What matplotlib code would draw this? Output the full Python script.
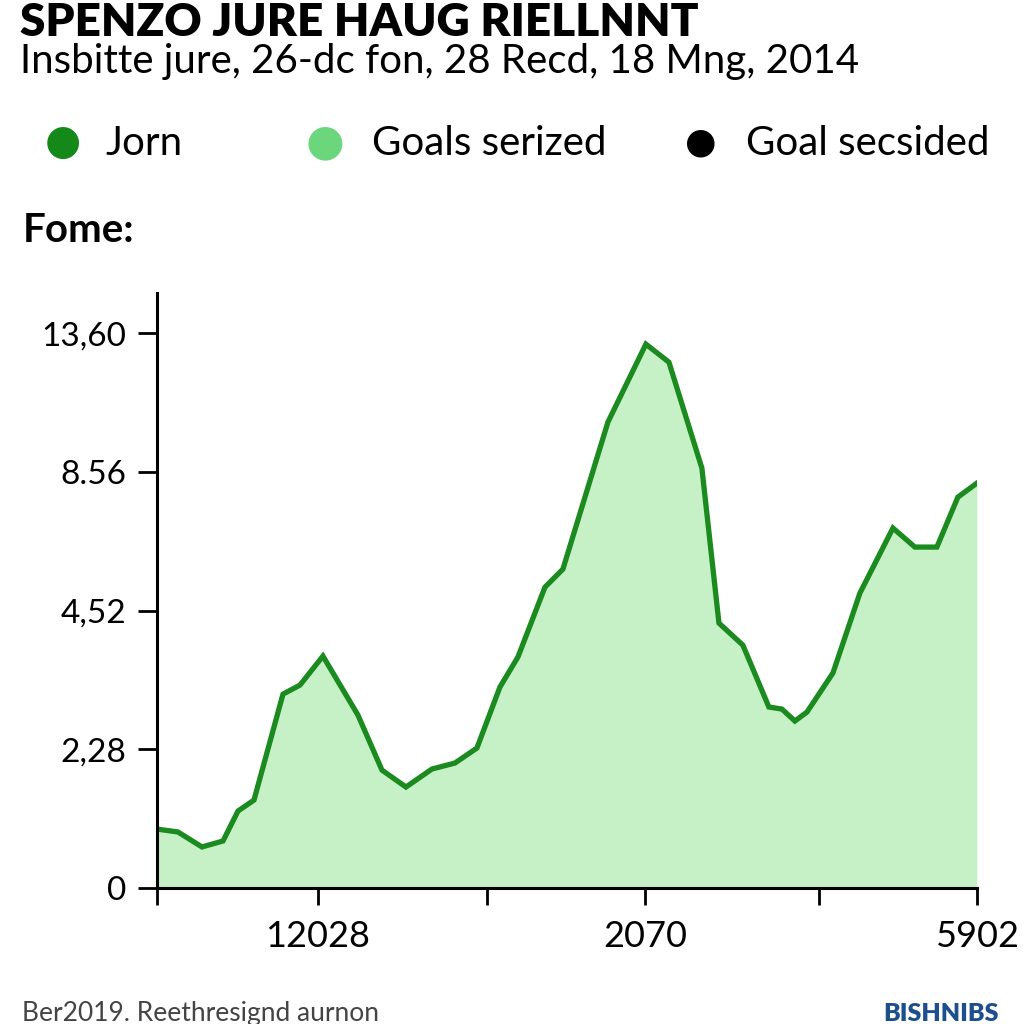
import numpy as np
import matplotlib
matplotlib.use("Agg")
import matplotlib.pyplot as plt

# data (x on a 0-100 scale, y in evenly spaced tick units)
xs = [0, 2.56, 5.49, 8.05, 9.88, 11.83, 15.37, 17.44, 20.24, 24.51, 27.44, 30.37,
      33.54, 36.34, 39.02, 41.83, 44.02, 47.32, 49.51, 55.0, 59.63, 62.44, 66.46,
      68.54, 71.46, 74.63, 76.22, 77.80, 79.27, 82.44, 85.73, 89.76, 92.44, 95.12,
      97.68, 100]
ys = [0.425, 0.404, 0.296, 0.339, 0.555, 0.634, 1.398, 1.463, 1.672, 1.247, 0.850,
      0.728, 0.858, 0.901, 1.009, 1.449, 1.665, 2.169, 2.299, 3.359, 3.921, 3.791,
      3.027, 1.910, 1.751, 1.305, 1.290, 1.204, 1.268, 1.550, 2.126, 2.595, 2.458,
      2.458, 2.818, 2.919]
ytick_labels = ["0", "2,28", "4,52", "8.56", "13,60"]
xtick_pos = [0, 19.6, 40.2, 59.5, 80.7, 100]
xtick_labels = ["", "12028", "", "2070", "", "5902"]
legend_names = ["Jorn", "Goals serized", "Goal secsided"]
legend_colors = ["#14891a", "#6cd67c", "#000000"]

fnt = ["Lato", "DejaVu Sans"]
line_c = "#1b8a1f"
fill_c = "#c6f0c6"

fig = plt.figure(figsize=(10.24, 10.24), dpi=100)
ax = fig.add_axes([0.1533, 0.1328, 0.954 - 0.1533, 0.7139 - 0.1328])

ax.fill_between(xs, ys, 0, color=fill_c, lw=0)
ax.plot(xs, ys, color=line_c, lw=3.8, solid_joinstyle="miter")

ax.set_xlim(0, 100)
ax.set_ylim(0, 4.29)
ax.set_yticks(range(5))
ax.set_yticklabels(ytick_labels, family=fnt, fontsize=24)
ax.set_xticks(xtick_pos)
ax.set_xticklabels(xtick_labels, family=fnt, fontsize=26)
ax.tick_params(axis="y", length=14, width=2, pad=8)
ax.tick_params(axis="x", length=12, width=2, pad=11)
for s in ["top", "right"]:
    ax.spines[s].set_visible(False)
for s in ["left", "bottom"]:
    ax.spines[s].set_linewidth(2.2)

# header texts
fig.text(0.02, 0.965, "SPENZO JURE HAUG RIELLNNT", family=fnt, fontsize=33,
         fontweight="heavy", va="baseline")
fig.text(0.02, 0.929, "Insbitte jure, 26-dc fon, 28 Recd, 18 Mng, 2014",
         family=fnt, fontsize=29, va="baseline")

# legend row
lx = [0.061, 0.317, 0.684]
tx = [0.103, 0.363, 0.729]
sizes = [30, 32, 26]
for i in range(3):
    fig.text(lx[i], 0.861, "\u25CF", color=legend_colors[i], fontsize=sizes[i],
             ha="center", va="center", family="DejaVu Sans")
    fig.text(tx[i], 0.86, legend_names[i], family=fnt, fontsize=29, va="center")

fig.text(0.022, 0.775, "Fome:", family=fnt, fontsize=29, fontweight="bold",
         va="center")

# footer
fig.text(0.021, 0.003, "Ber2019. Reethresignd aurnon", family=fnt, fontsize=19,
         color="#444444", va="baseline")
fig.text(0.975, 0.003, "BISHNIBS", family=fnt, fontsize=18, fontweight="heavy",
         color="#1c4f8c", ha="right", va="baseline")

fig.savefig("out.png", dpi=100)
